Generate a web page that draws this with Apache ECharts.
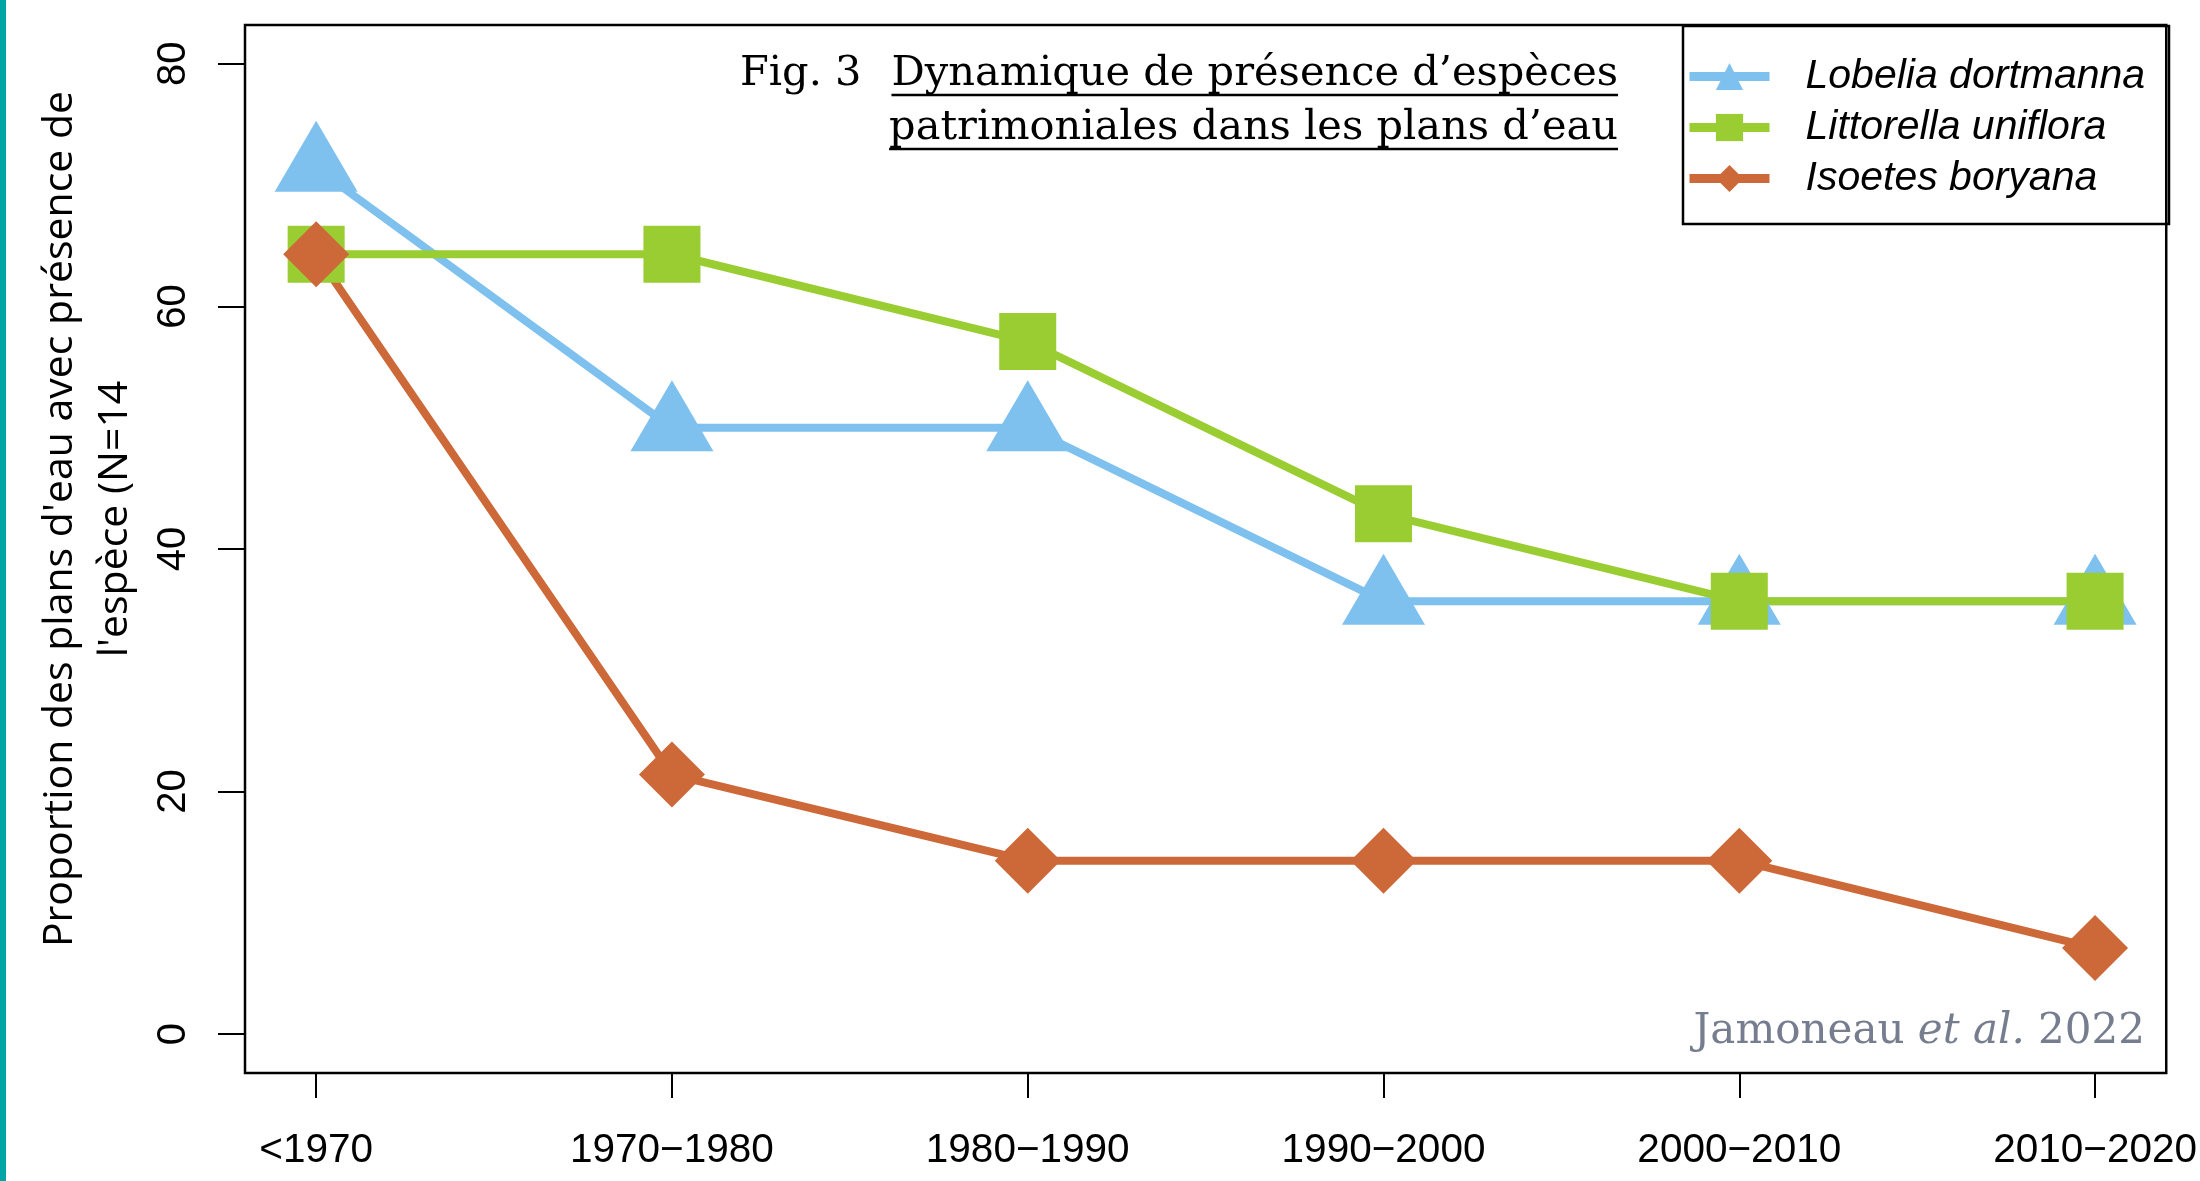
<!DOCTYPE html>
<html lang="fr">
<head>
  <meta charset="utf-8"/>
  <title>Dynamique de présence d'espèces patrimoniales</title>
  <script src="https://cdn.jsdelivr.net/npm/echarts@6/dist/echarts.min.js"></script>
  <style>
    html, body { margin: 0; padding: 0; background: #fff; }
    #chart { width: 2200px; height: 1181px; }
  </style>
</head>
<body>
<div id="chart"></div>
<script>
  // data (N = 14 plans d'eau, so steps of ~7.14 %)
  var periods = ['<1970', '1970\u22121980', '1980\u22121990', '1990\u22122000', '2000\u22122010', '2010\u22122020'];
  var lobelia = [71.4, 50, 50, 35.7, 35.7, 35.7];
  var littorella = [64.3, 64.3, 57.1, 42.9, 35.7, 35.7];
  var isoetes = [64.3, 21.4, 14.3, 14.3, 14.3, 7.1];
  var yTicks = [0, 20, 40, 60, 80];
  var xTicks = [1, 2, 3, 4, 5, 6];

  var colors = {lobelia: '#7EC0EE', littorella: '#9ACD32', isoetes: '#CD6839'};

  function toPoints(values) {
    return values.map(function (v, i) { return [i + 1, v]; });
  }

  // measure text so the title underlines fit
  var ctx = document.createElement('canvas').getContext('2d');
  function textWidth(txt, font) {
    ctx.font = font;
    return ctx.measureText(txt).width;
  }

  var titleFont = '41.5px "DejaVu Serif"';
  var titleRight = 1618;
  var line1 = 'Dynamique de présence d\u2019espèces';
  var line2 = 'patrimoniales dans les plans d\u2019eau';
  var w1 = textWidth(line1, titleFont);
  var w2 = textWidth(line2, titleFont);

  var chart = echarts.init(document.getElementById('chart'));

  var option = {
    backgroundColor: '#fff',
    animation: false,
    grid: {
      left: 245, right: 31, top: 25, bottom: 108,
      show: true, borderColor: '#000', borderWidth: 2.5
    },
    legend: {
      orient: 'vertical',
      left: 1680, top: 51,
      itemWidth: 80, itemHeight: 34, itemGap: 10,
      selectedMode: false,
      lineStyle: {width: 9},
      textStyle: {
        fontFamily: 'Liberation Sans', fontStyle: 'italic', fontSize: 41,
        color: '#000', padding: [0, 0, 0, 31]
      },
      data: ['Lobelia dortmanna', 'Littorella uniflora', 'Isoetes boryana']
    },
    xAxis: {
      type: 'value', min: 0.8, max: 6.2,
      splitLine: {show: false},
      axisLine: {show: false, onZero: false},
      axisTick: {show: true, length: 25, customValues: xTicks, lineStyle: {color: '#000', width: 2}},
      axisLabel: {
        customValues: xTicks, margin: 57,
        fontFamily: 'Liberation Sans', fontSize: 40.5, color: '#000',
        formatter: function (v) { return periods[Math.round(v) - 1]; }
      }
    },
    yAxis: {
      type: 'value', min: -3.2, max: 83.2,
      splitLine: {show: false},
      axisLine: {show: false, onZero: false},
      axisTick: {show: true, length: 27, customValues: yTicks, lineStyle: {color: '#000', width: 2}},
      axisLabel: {
        customValues: yTicks, rotate: 90, margin: 51,
        fontFamily: 'Liberation Sans', fontSize: 40, color: '#000'
      }
    },
    series: [
      {
        name: 'Lobelia dortmanna', type: 'line', data: toPoints(lobelia),
        color: colors.lobelia,
        symbol: 'triangle', symbolSize: [83, 71], symbolOffset: [0, -12],
        lineStyle: {width: 8, color: colors.lobelia},
        itemStyle: {color: colors.lobelia}
      },
      {
        name: 'Littorella uniflora', type: 'line', data: toPoints(littorella),
        color: colors.littorella,
        symbol: 'rect', symbolSize: 57,
        lineStyle: {width: 8, color: colors.littorella},
        itemStyle: {color: colors.littorella}
      },
      {
        name: 'Isoetes boryana', type: 'line', data: toPoints(isoetes),
        color: colors.isoetes,
        symbol: 'diamond', symbolSize: 66,
        lineStyle: {width: 8, color: colors.isoetes},
        itemStyle: {color: colors.isoetes}
      }
    ],
    graphic: [
      // teal strip on the left edge
      {type: 'rect', left: 0, top: 0, shape: {width: 6, height: 1181}, style: {fill: '#00A6A6'}},
      // legend frame
      {type: 'rect', shape: {x: 1683, y: 26, width: 486, height: 198},
        style: {fill: 'none', stroke: '#000', lineWidth: 2.5}, z: 10},
      // y axis title
      {
        type: 'text', x: 88, y: 519, rotation: Math.PI / 2,
        style: {
          text: 'Proportion des plans d\'eau avec présence de\nl\'espèce (N=14',
          font: '41px "Open Sans"', fill: '#000',
          align: 'center', verticalAlign: 'middle', lineHeight: 55
        }
      },
      // title
      {
        type: 'text', x: titleRight - w1 - 30, y: 74,
        style: {text: 'Fig. 3', font: titleFont, fill: '#000', align: 'right', verticalAlign: 'middle'}
      },
      {
        type: 'text', x: titleRight, y: 74,
        style: {text: line1, font: titleFont, fill: '#000', align: 'right', verticalAlign: 'middle'}
      },
      {
        type: 'text', x: titleRight, y: 128,
        style: {text: line2, font: titleFont, fill: '#000', align: 'right', verticalAlign: 'middle'}
      },
      {type: 'line', shape: {x1: titleRight - w1, y1: 95, x2: titleRight, y2: 95}, style: {stroke: '#000', lineWidth: 2.5}},
      {type: 'line', shape: {x1: titleRight - w2, y1: 149, x2: titleRight, y2: 149}, style: {stroke: '#000', lineWidth: 2.5}},
      // source
      {
        type: 'text', x: 2145, y: 1032,
        style: {
          text: '{a|Jamoneau }{i|et al.}{a| 2022}',
          align: 'right', verticalAlign: 'middle',
          rich: {
            a: {fontFamily: 'DejaVu Serif', fontSize: 42, fill: '#767d8e'},
            i: {fontFamily: 'DejaVu Serif', fontSize: 42, fontStyle: 'italic', fill: '#767d8e'}
          }
        }
      }
    ]
  };

  chart.setOption(option);
</script>
</body>
</html>
